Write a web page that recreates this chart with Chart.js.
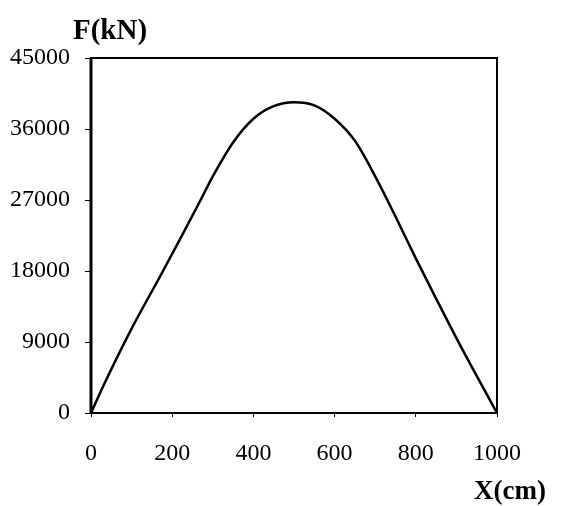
<!DOCTYPE html>
<html>
<head>
<meta charset="utf-8">
<script src="https://cdn.jsdelivr.net/npm/chart.js@4/dist/chart.umd.min.js"></script>
<style>
  html, body { margin:0; padding:0; background:#fff; }
  #wrap { width:561px; height:506px; }
</style>
</head>
<body>
<div id="wrap"><canvas id="chart-force"></canvas></div>
<script>
  // force along the span
  const posX   = [0, 30, 100, 170, 220, 270, 300, 350, 400, 450, 500, 550, 600, 650, 700, 750, 800, 850, 900, 950, 1000];
  const forceF = [0, 3400, 10700, 17300, 22100, 27000, 30000, 34300, 37300, 38900, 39400, 39000, 37300, 34500, 30000, 24900, 19600, 14500, 9500, 4700, 0];

  const xTicks = [0, 200, 400, 600, 800, 1000];
  const yTicks = [0, 9000, 18000, 27000, 36000, 45000];

  const serif = "'Liberation Serif', 'Times New Roman', serif";

  // box round the plot + the two axis captions
  const frame = {
    id: 'frame',
    afterDraw(chart){
      const {ctx, chartArea:a} = chart;
      ctx.save();
      ctx.strokeStyle = '#000';
      ctx.lineWidth = 2;
      ctx.strokeRect(a.left, a.top, a.right - a.left, a.bottom - a.top);
      ctx.lineWidth = 3;
      ctx.beginPath(); ctx.moveTo(a.left, a.top); ctx.lineTo(a.left, a.bottom); ctx.stroke();

      ctx.fillStyle = '#000';
      ctx.font = `bold 29px ${serif}`;
      ctx.textAlign = 'center';
      ctx.textBaseline = 'middle';
      ctx.fillText('F(kN)', a.left + 19, 32);

      ctx.font = `bold 27px ${serif}`;
      ctx.textAlign = 'right';
      ctx.fillText('X(cm)', 546, 492);
      ctx.restore();
    }
  };

  new Chart(document.getElementById('chart-force').getContext('2d'), {
    type: 'scatter',
    data: {
      datasets: [{
        data: posX.map((x,i)=>({x, y: forceF[i]})),
        showLine: true,
        borderColor: '#000',
        borderWidth: 2.5,
        pointRadius: 0,
        cubicInterpolationMode: 'monotone'
      }]
    },
    options: {
      responsive: true,
      maintainAspectRatio: false,
      animation: false,
      layout: { padding: { left: 0, top: 58, right: 64, bottom: 0 } },
      plugins: { legend: { display:false }, tooltip: { enabled:false } },
      scales: {
        x: {
          type: 'linear', min: 0, max: 1000,
          afterBuildTicks: s => { s.ticks = xTicks.map(v=>({value:v})); },
          afterFit: s => { s.height = 93; },
          grid: { drawOnChartArea:false, drawTicks:true, tickLength:4, tickColor:'#000', color:'#000' },
          border: { display:false },
          ticks: { color:'#000', padding:22, maxRotation:0, font:{ family:serif, size:24 }, callback: v => String(v) }
        },
        y: {
          type: 'linear', min: 0, max: 45000,
          afterBuildTicks: s => { s.ticks = yTicks.map(v=>({value:v})); },
          afterFit: s => { s.width = 91; },
          grid: { drawOnChartArea:false, drawTicks:true, tickLength:6, tickColor:'#000', color:'#000' },
          border: { display:false },
          ticks: { color:'#000', padding:15, font:{ family:serif, size:24 }, callback: v => String(v) }
        }
      }
    },
    plugins: [frame]
  });
</script>
</body>
</html>
